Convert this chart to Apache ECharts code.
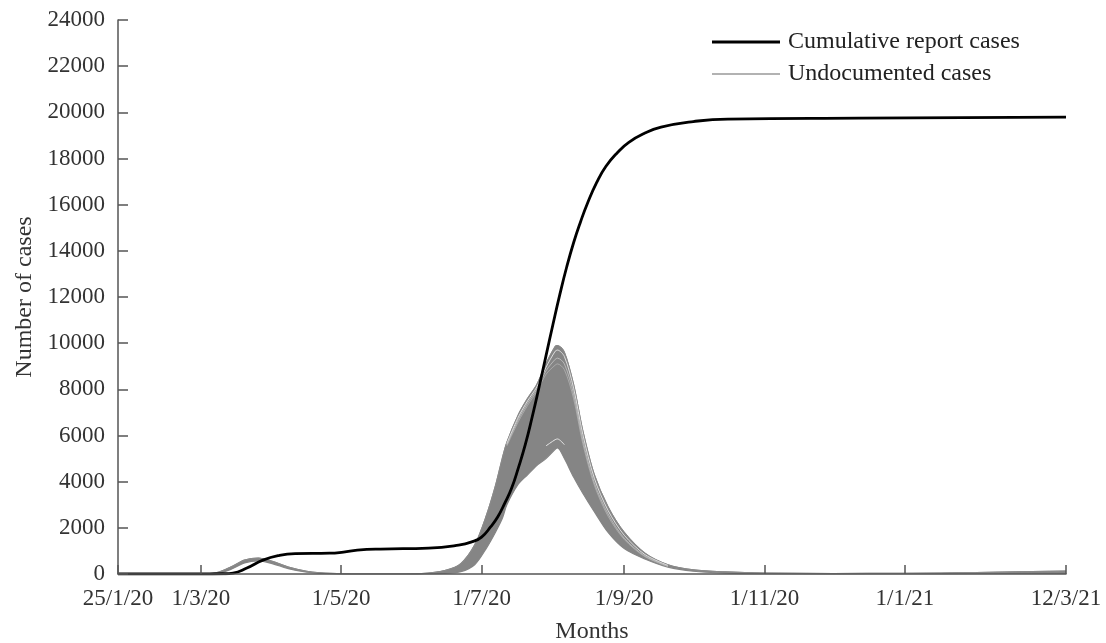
<!DOCTYPE html>
<html>
<head>
<meta charset="utf-8">
<script src="https://cdn.jsdelivr.net/npm/echarts@6/dist/echarts.min.js"></script>
<style>html,body{margin:0;padding:0;background:#fff}#c{width:1106px;height:643px}</style>
</head>
<body>
<div id="c"></div>
<script>
// ---- data ----
const tickDates = ['2020-01-25','2020-03-01','2020-05-01','2020-07-01','2020-09-01','2020-11-01','2021-01-01','2021-03-12'];
const tickLabels = ['25/1/20','1/3/20','1/5/20','1/7/20','1/9/20','1/11/20','1/1/21','12/3/21'];
const yTicks = [0,2000,4000,6000,8000,10000,12000,14000,16000,18000,20000,22000,24000];

const reportDates = ['2020-01-25','2020-03-01','2020-03-11','2020-03-15','2020-03-21','2020-03-28','2020-04-04','2020-04-11','2020-04-26','2020-05-02','2020-05-08','2020-05-18','2020-06-08','2020-06-21','2020-06-27','2020-07-01','2020-07-05','2020-07-08','2020-07-11','2020-07-14','2020-07-17','2020-07-20','2020-07-23','2020-07-26','2020-07-29','2020-08-01','2020-08-04','2020-08-07','2020-08-10','2020-08-13','2020-08-16','2020-08-20','2020-08-24','2020-08-29','2020-09-03','2020-09-10','2020-09-17','2020-10-01','2020-10-16','2020-12-12','2021-03-12'];
const reportCases = [0,0,10,40,260,600,800,880,900,950,1030,1080,1120,1250,1400,1600,2050,2470,3050,3700,4600,5600,6800,8100,9450,10800,12100,13300,14350,15250,16050,16950,17650,18250,18700,19100,19360,19600,19710,19750,19790];

const undocDates = ['2020-01-25','2020-03-01','2020-03-08','2020-03-14','2020-03-20','2020-03-26','2020-04-01','2020-04-08','2020-04-16','2020-04-26','2020-05-10','2020-05-25','2020-06-05','2020-06-15','2020-06-22','2020-06-28','2020-07-03','2020-07-07','2020-07-10','2020-07-12','2020-07-17','2020-07-21','2020-07-25','2020-07-29','2020-08-02','2020-08-03','2020-08-06','2020-08-10','2020-08-14','2020-08-19','2020-08-25','2020-09-01','2020-09-10','2020-09-20','2020-10-01','2020-10-15','2020-11-01','2020-12-01','2021-01-01','2021-02-01','2021-03-12'];
const undocUpper = [0,0,60,300,600,690,550,300,120,30,0,0,20,150,450,1250,2500,3800,5000,5700,6900,7600,8200,9100,9850,9900,9600,8200,6200,4300,2900,1800,900,400,180,90,40,20,30,60,130];
const undocLower = [0,0,20,200,480,570,450,230,80,10,0,0,0,30,100,400,1100,1800,2400,3000,3900,4300,4700,5000,5400,5460,5000,4200,3500,2700,1800,1100,650,300,120,40,10,0,0,10,40];

// individual strands visible near the peak (white gaps between simulated curves)
const strandDates = ['2020-07-12','2020-07-17','2020-07-21','2020-07-25','2020-07-29','2020-08-02','2020-08-03','2020-08-06','2020-08-10','2020-08-14','2020-08-19','2020-08-25','2020-09-01','2020-09-10','2020-09-20'];
const strandA = [5650,6800,7500,8100,8950,9650,9700,9420,8050,6050,4150,2750,1680,840,370];
const strandB = [5600,6700,7400,8000,8800,9300,9350,9100,7800,5800,3950,2600,1550,780,340];
const strandC = [5550,6600,7300,7900,8650,9050,9100,8850,7600,5650,3850,2500,1500,750,330];
const strandD = [null,null,null,null,5550,5820,5850,5600,null,null,null,null,null,null,null];

// ---- build ----
const ts = d => Date.UTC(+d.slice(0,4), +d.slice(5,7) - 1, +d.slice(8,10));
const pairs = (d, v) => d.map((x, i) => [ts(x), v[i]]);
const tickTimes = tickDates.map(ts);
const fmtDate = v => {
  const i = tickTimes.findIndex(t => Math.abs(t - v) < 43200000);
  return i >= 0 ? tickLabels[i] : '';
};
const FONT = 'Liberation Serif';
const GREY = '#858585';

const chart = echarts.init(document.getElementById('c'), null, {renderer: 'canvas'});
chart.setOption({
  animation: false,
  backgroundColor: '#fff',
  grid: {left: 118, right: 40, top: 20, bottom: 69, containLabel: false, outerBoundsMode: 'none'},
  legend: {
    orient: 'vertical', left: 712, top: 30, padding: 0, itemWidth: 68, itemHeight: 14, itemGap: 8,
    textStyle: {fontFamily: FONT, fontSize: 24, color: '#222', padding: [0,0,0,3]},
    data: [
      {name: 'Cumulative report cases', icon: 'path://M0,0 L68,0 L68,3 L0,3 Z', itemStyle: {color: '#000'}},
      {name: 'Undocumented cases', icon: 'path://M0,0 L68,0 L68,1.3 L0,1.3 Z', itemStyle: {color: '#999'}}
    ]
  },
  xAxis: {
    type: 'value', z: 10,
    min: tickTimes[0], max: tickTimes[tickTimes.length - 1],
    name: 'Months', nameLocation: 'middle', nameGap: 46,
    nameTextStyle: {fontFamily: FONT, fontSize: 24, color: '#333'},
    axisLine: {show: true, lineStyle: {color: '#555', width: 1.5}},
    axisTick: {show: true, inside: true, length: 9, customValues: tickTimes, lineStyle: {color: '#555', width: 1.5}},
    axisLabel: {customValues: tickTimes, formatter: fmtDate, fontFamily: FONT, fontSize: 23, color: '#333', margin: 13, showMinLabel: true, showMaxLabel: true},
    splitLine: {show: false}
  },
  yAxis: {
    type: 'value', min: 0, max: 24000, interval: 2000, z: 10,
    name: 'Number of cases', nameLocation: 'middle', nameGap: 81,
    nameTextStyle: {fontFamily: FONT, fontSize: 24, color: '#333'},
    axisLine: {show: true, lineStyle: {color: '#555', width: 1.5}},
    axisTick: {show: true, inside: true, length: 10, lineStyle: {color: '#555', width: 1.5}},
    axisLabel: {fontFamily: FONT, fontSize: 23, color: '#333', margin: 13,
      formatter: v => yTicks.indexOf(v) >= 0 ? String(v) : ''},
    splitLine: {show: false}
  },
  series: [
    {name: 'upperFill', type: 'line', data: pairs(undocDates, undocUpper), symbol: 'none', smooth: 0.3,
     lineStyle: {color: GREY, width: 1.2}, areaStyle: {color: GREY, opacity: 1}, silent: true, z: 2},
    {name: 'lowerMask', type: 'line', data: pairs(undocDates, undocLower), symbol: 'none', smooth: 0.3,
     lineStyle: {color: GREY, width: 1.2}, areaStyle: {color: '#ffffff', opacity: 1}, silent: true, z: 3},
    {name: 'Undocumented cases', type: 'line', data: pairs(undocDates, undocUpper), symbol: 'none', smooth: 0.3,
     lineStyle: {color: '#8a8a8a', width: 1.2}, z: 4},
    {name: 'strandA', type: 'line', data: pairs(strandDates, strandA), symbol: 'none', smooth: 0.3,
     lineStyle: {color: '#e8e8e8', width: 0.9}, z: 4},
    {name: 'strandB', type: 'line', data: pairs(strandDates, strandB), symbol: 'none', smooth: 0.3,
     lineStyle: {color: '#cfcfcf', width: 0.7}, z: 4},
    {name: 'strandC', type: 'line', data: pairs(strandDates, strandC), symbol: 'none', smooth: 0.3,
     lineStyle: {color: '#b8b8b8', width: 0.7}, z: 4},
    {name: 'strandD', type: 'line', data: pairs(strandDates, strandD), symbol: 'none', smooth: 0.3, connectNulls: false,
     lineStyle: {color: '#e8e8e8', width: 1}, z: 4},
    {name: 'Cumulative report cases', type: 'line', data: pairs(reportDates, reportCases), symbol: 'none', smooth: 0.5,
     lineStyle: {color: '#000', width: 2.8}, z: 6}
  ]
});
</script>
</body>
</html>
